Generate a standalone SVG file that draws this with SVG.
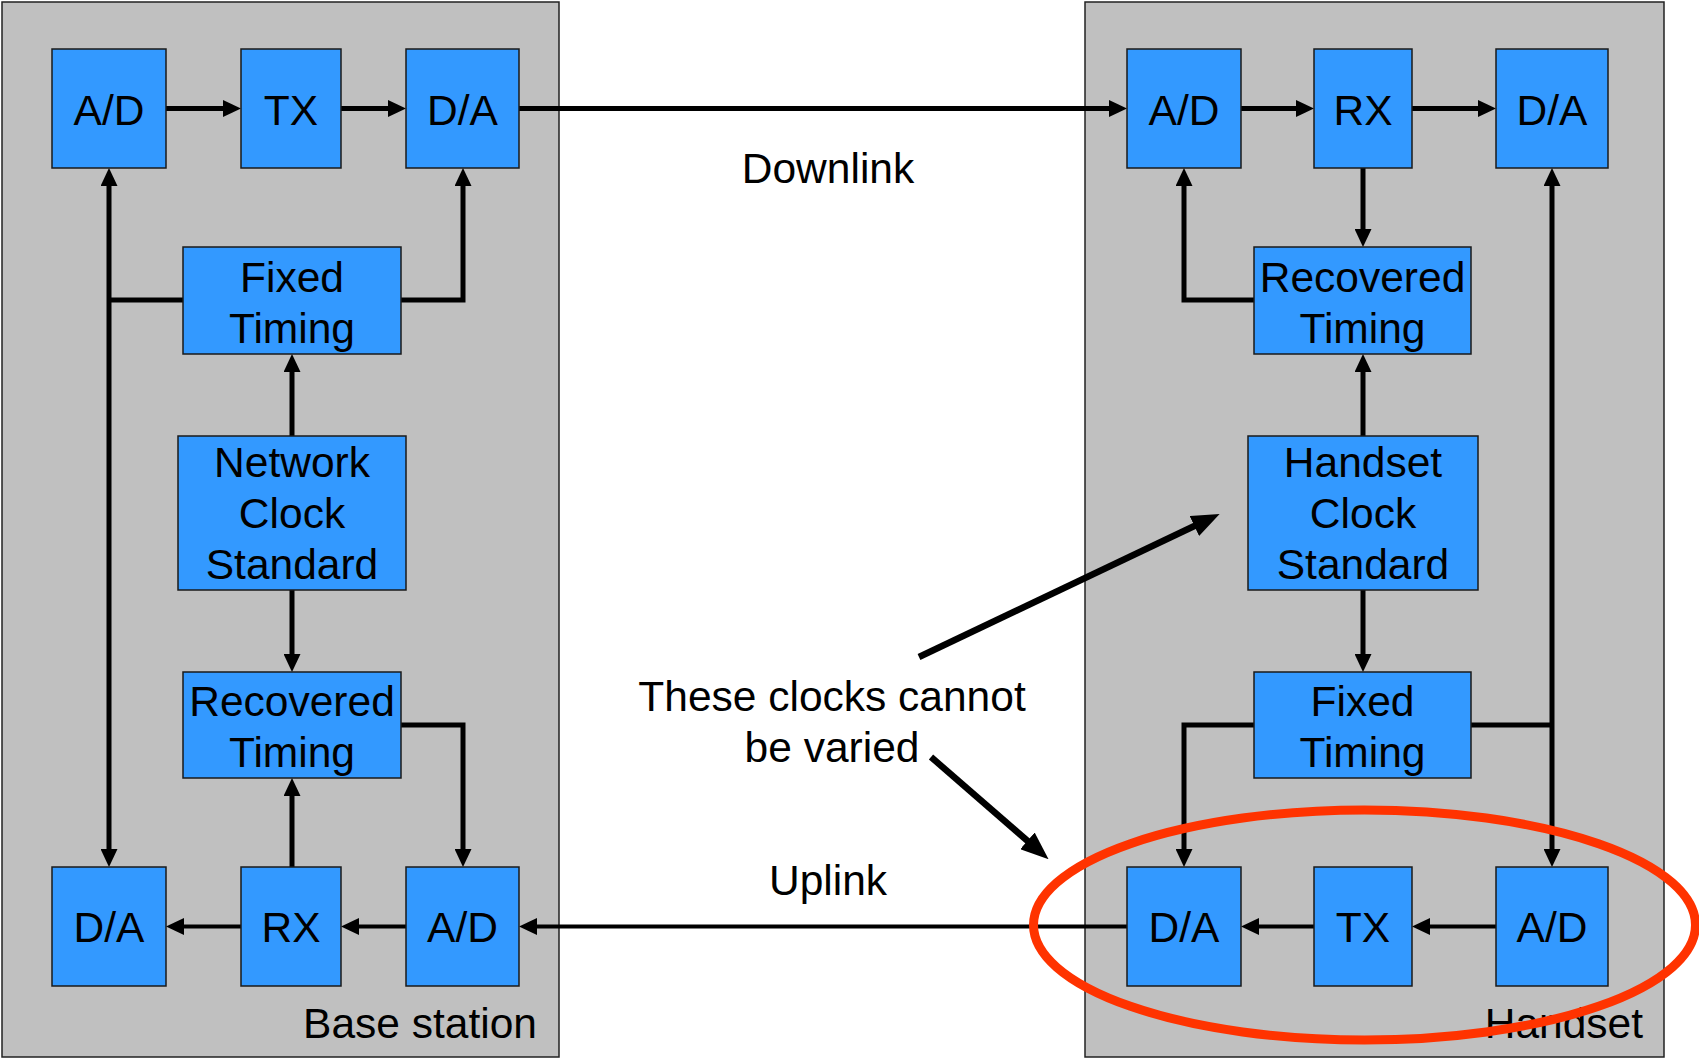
<svg xmlns="http://www.w3.org/2000/svg" width="1699" height="1060" viewBox="0 0 1699 1060">
<style>
.panel{fill:#C0C0C0;stroke:#222;stroke-width:1.5}
.box{fill:#3399FF;stroke:#1a1a1a;stroke-width:1.5}
.t{font-family:"Liberation Sans",Arial,sans-serif;font-size:42.5px;fill:#000;text-anchor:middle}
.c{fill:none;stroke:#000;stroke-width:5;marker-end:url(#a)}
.c2{fill:none;stroke:#000;stroke-width:4;marker-end:url(#a)}
.p{fill:none;stroke:#000;stroke-width:6.5;marker-end:url(#b)}
</style>
<defs>
<marker id="a" markerUnits="userSpaceOnUse" markerWidth="18" markerHeight="17" viewBox="0 0 18 17" refX="8" refY="8.5" orient="auto-start-reverse"><path d="M0,0 L18,8.5 L0,17 z" fill="#000"/></marker>
<marker id="b" markerUnits="userSpaceOnUse" markerWidth="28" markerHeight="22" viewBox="0 0 28 22" refX="14" refY="11" orient="auto"><path d="M0,0 L28,11 L0,22 z" fill="#000"/></marker>
</defs>
<rect width="1699" height="1060" fill="#fff"/>
<g id="base-station">
<rect class="panel" x="2" y="2" width="557" height="1055"/>
<text class="t" x="537" y="1038" style="text-anchor:end">Base station</text>
</g>
<g id="handset">
<rect class="panel" x="1085" y="2" width="579" height="1055"/>
<text class="t" x="1643" y="1038" style="text-anchor:end">Handset</text>
</g>
<g id="connectors">
<path class="c" d="M166,108.5 H231"/>
<path class="c" d="M341,108.5 H396"/>
<path class="c" d="M519,108.5 H1117"/>
<path class="c" d="M109,178 V857" style="marker-start:url(#a)"/>
<path class="c" d="M109,300 H183" style="marker-end:none"/>
<path class="c" d="M401,300 H463 V178"/>
<path class="c" d="M292,436 V364"/>
<path class="c" d="M292,590 V662"/>
<path class="c" d="M292,867 V788"/>
<path class="c" d="M401,725 H463 V857"/>
<path class="c2" d="M406,926.5 H351"/>
<path class="c2" d="M241,926.5 H176"/>
<path class="c2" d="M1127,926.5 H529"/>
<path class="c" d="M1241,108.5 H1304"/>
<path class="c" d="M1412,108.5 H1486"/>
<path class="c" d="M1363,168 V237"/>
<path class="c" d="M1254,300 H1184 V178"/>
<path class="c" d="M1363,436 V364"/>
<path class="c" d="M1363,590 V662"/>
<path class="c" d="M1254,725 H1184 V857"/>
<path class="c" d="M1471,725 H1552" style="marker-end:none"/>
<path class="c" d="M1552,178 V857" style="marker-start:url(#a)"/>
<path class="c2" d="M1496,926.5 H1422"/>
<path class="c2" d="M1314,926.5 H1251"/>
<path class="p" d="M919,657 L1207,520"/>
<path class="p" d="M931,757 L1038,850"/>
</g>
<g id="bs-ad-top"><rect class="box" x="52" y="49" width="114" height="119"/><text class="t" x="109" y="125">A/D</text></g>
<g id="bs-tx"><rect class="box" x="241" y="49" width="100" height="119"/><text class="t" x="291" y="125">TX</text></g>
<g id="bs-da-top"><rect class="box" x="406" y="49" width="113" height="119"/><text class="t" x="462.5" y="125">D/A</text></g>
<g id="bs-fixed"><rect class="box" x="183" y="247" width="218" height="107"/><text class="t" x="292" y="292">Fixed</text><text class="t" x="292" y="343">Timing</text></g>
<g id="bs-network"><rect class="box" x="178" y="436" width="228" height="154"/><text class="t" x="292" y="477">Network</text><text class="t" x="292" y="528">Clock</text><text class="t" x="292" y="579">Standard</text></g>
<g id="bs-recovered"><rect class="box" x="183" y="672" width="218" height="106"/><text class="t" x="292" y="716">Recovered</text><text class="t" x="292" y="767">Timing</text></g>
<g id="bs-da-bottom"><rect class="box" x="52" y="867" width="114" height="119"/><text class="t" x="109" y="942">D/A</text></g>
<g id="bs-rx"><rect class="box" x="241" y="867" width="100" height="119"/><text class="t" x="291" y="942">RX</text></g>
<g id="bs-ad-bottom"><rect class="box" x="406" y="867" width="113" height="119"/><text class="t" x="462.5" y="942">A/D</text></g>
<g id="hs-ad-top"><rect class="box" x="1127" y="49" width="114" height="119"/><text class="t" x="1184" y="125">A/D</text></g>
<g id="hs-rx"><rect class="box" x="1314" y="49" width="98" height="119"/><text class="t" x="1363" y="125">RX</text></g>
<g id="hs-da-top"><rect class="box" x="1496" y="49" width="112" height="119"/><text class="t" x="1552" y="125">D/A</text></g>
<g id="hs-recovered"><rect class="box" x="1254" y="247" width="217" height="107"/><text class="t" x="1362.5" y="292">Recovered</text><text class="t" x="1362.5" y="343">Timing</text></g>
<g id="hs-clock"><rect class="box" x="1248" y="436" width="230" height="154"/><text class="t" x="1363" y="477">Handset</text><text class="t" x="1363" y="528">Clock</text><text class="t" x="1363" y="579">Standard</text></g>
<g id="hs-fixed"><rect class="box" x="1254" y="672" width="217" height="106"/><text class="t" x="1362.5" y="716">Fixed</text><text class="t" x="1362.5" y="767">Timing</text></g>
<g id="hs-da-bottom"><rect class="box" x="1127" y="867" width="114" height="119"/><text class="t" x="1184" y="942">D/A</text></g>
<g id="hs-tx"><rect class="box" x="1314" y="867" width="98" height="119"/><text class="t" x="1363" y="942">TX</text></g>
<g id="hs-ad-bottom"><rect class="box" x="1496" y="867" width="112" height="119"/><text class="t" x="1552" y="942">A/D</text></g>
<g id="labels">
<text class="t" x="828" y="183">Downlink</text>
<text class="t" x="828" y="895">Uplink</text>
<text class="t" x="832" y="711">These clocks cannot</text>
<text class="t" x="832" y="762">be varied</text>
</g>
<g id="highlight">
<ellipse cx="1364.5" cy="925" rx="331" ry="115" fill="none" stroke="#FF3300" stroke-width="9"/>
</g>
</svg>
